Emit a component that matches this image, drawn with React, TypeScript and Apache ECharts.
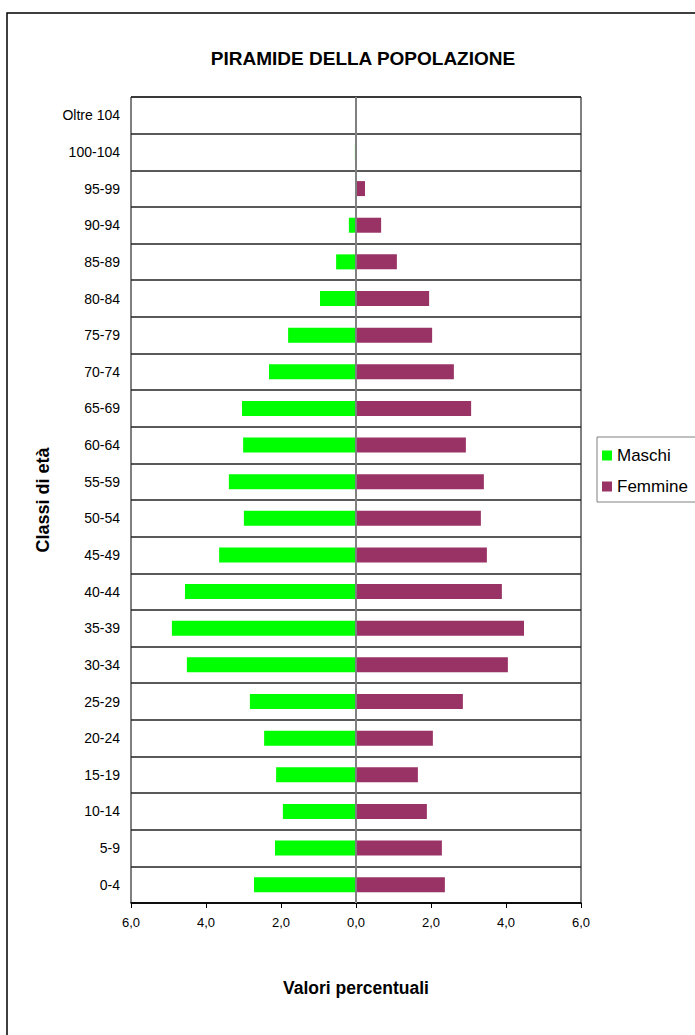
import React, { useEffect, useRef } from "react";
import * as echarts from "echarts";

const categories = [
  "0-4", "5-9", "10-14", "15-19", "20-24", "25-29", "30-34", "35-39",
  "40-44", "45-49", "50-54", "55-59", "60-64", "65-69", "70-74", "75-79",
  "80-84", "85-89", "90-94", "95-99", "100-104", "Oltre 104",
];
const maschi = [
  2.72, 2.16, 1.95, 2.13, 2.45, 2.83, 4.51, 4.91, 4.56, 3.65, 2.99, 3.39,
  3.01, 3.04, 2.32, 1.81, 0.96, 0.53, 0.19, 0.02, 0.03, 0,
];
const femmine = [
  2.37, 2.29, 1.89, 1.65, 2.05, 2.85, 4.05, 4.48, 3.89, 3.49, 3.33, 3.41,
  2.93, 3.07, 2.61, 2.03, 1.95, 1.09, 0.67, 0.24, 0, 0,
];
const xTicks = { min: -6, max: 6, interval: 2 };

const FONT = "'Liberation Sans', Arial, sans-serif";

export default function App() {
  const ref = useRef<HTMLDivElement>(null);
  useEffect(() => {
    if (!ref.current) return;
    const chart = echarts.init(ref.current, null, { renderer: "svg" });
    chart.setOption({
      animation: false,
      backgroundColor: "#ffffff",
      textStyle: { fontFamily: FONT },
      title: {
        text: "PIRAMIDE DELLA POPOLAZIONE",
        left: 358,
        top: 44,
        textAlign: "center",
        textStyle: { fontFamily: FONT, fontSize: 19, fontWeight: "bold", color: "#000" },
      },
      graphic: [
        {
          type: "rect",
          shape: { x: 7, y: 13, width: 720, height: 1040 },
          style: { fill: "none", stroke: "#000", lineWidth: 1.5 },
          silent: true,
          z: -1,
        },
      ],
      legend: {
        orient: "vertical",
        left: 597,
        top: 437,
        padding: [10, 12, 7, 5],
        itemWidth: 10,
        itemHeight: 10,
        itemGap: 14,
        icon: "rect",
        borderColor: "#808080",
        borderWidth: 1,
        textStyle: { fontFamily: FONT, fontSize: 17, color: "#000" },
        data: ["Maschi", "Femmine"],
      },
      grid: {
        left: 131,
        right: 114,
        top: 97,
        bottom: 132,
        show: true,
        borderColor: "#000",
        borderWidth: 1,
        backgroundColor: "#fff",
      },
      xAxis: {
        type: "value",
        min: xTicks.min,
        max: xTicks.max,
        interval: xTicks.interval,
        name: "Valori percentuali",
        nameLocation: "middle",
        nameGap: 76,
        nameTextStyle: { fontFamily: FONT, fontSize: 17.5, fontWeight: "bold", color: "#000" },
        axisLine: { show: true, lineStyle: { color: "#000", width: 1.5 } },
        axisTick: { show: true, length: 5, lineStyle: { color: "#000" } },
        splitLine: { show: false },
        axisLabel: {
          fontFamily: FONT,
          fontSize: 13,
          color: "#000",
          margin: 13,
          formatter: (v: number) => Math.abs(v).toFixed(1).replace(".", ","),
        },
      },
      yAxis: {
        type: "category",
        data: categories,
        name: "Classi di età",
        nameLocation: "middle",
        nameGap: 75,
        nameRotate: 90,
        nameTextStyle: { fontFamily: FONT, fontSize: 18, fontWeight: "bold", color: "#000" },
        axisLine: { show: false },
        axisTick: { show: false },
        splitLine: { show: true, lineStyle: { color: "#222", width: 1.5 } },
        axisLabel: { fontFamily: FONT, fontSize: 14, color: "#000", margin: 11 },
      },
      series: [
        {
          name: "Maschi",
          type: "bar",
          stack: "tot",
          barWidth: 15,
          itemStyle: { color: "#00ff00" },
          data: maschi.map((v) => -v),
          markLine: {
            silent: true,
            symbol: "none",
            label: { show: false },
            lineStyle: { color: "#808080", width: 2, type: "solid" },
            data: [{ xAxis: 0 }],
            z: 5,
          },
        },
        {
          name: "Femmine",
          type: "bar",
          stack: "tot",
          barWidth: 15,
          itemStyle: { color: "#993366" },
          data: femmine,
        },
      ],
    });
    return () => chart.dispose();
  }, []);
  return (
    <div
      ref={ref}
      style={{ position: "absolute", left: 0, top: 0, width: 695, height: 1035 }}
    />
  );
}
